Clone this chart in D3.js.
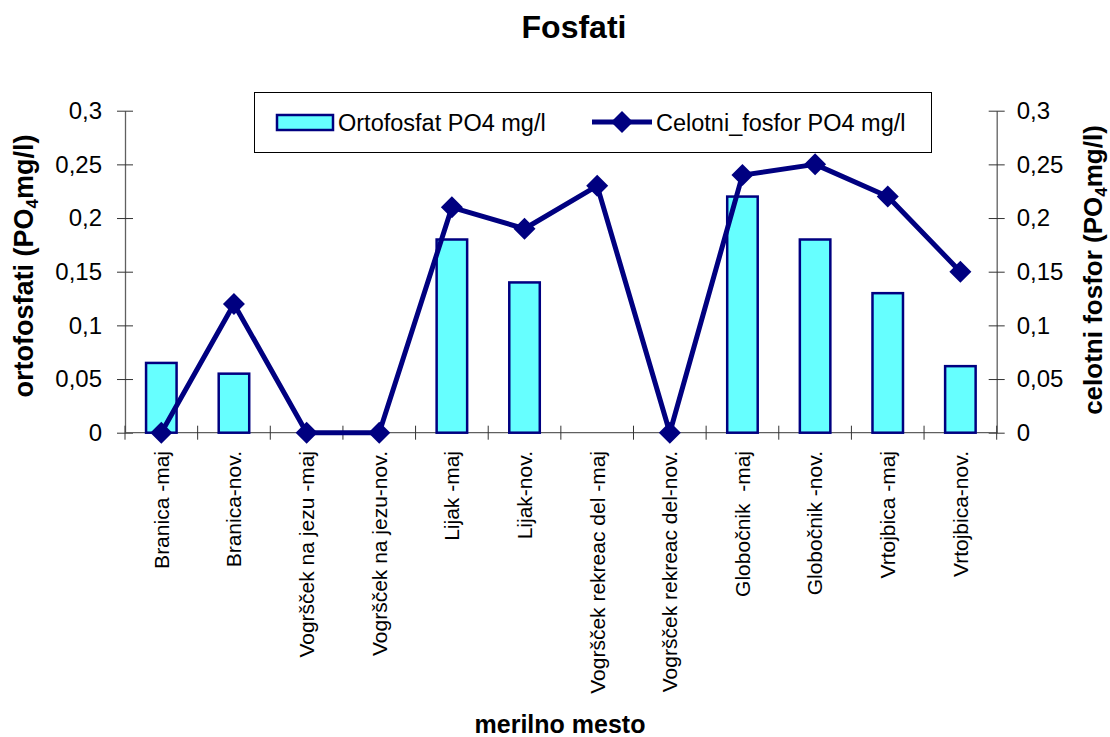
<!DOCTYPE html>
<html>
<head>
<meta charset="utf-8">
<script src="https://cdn.jsdelivr.net/npm/d3@7"></script>
<style>
  html, body { margin: 0; padding: 0; background: #fff; }
  svg { display: block; font-family: "Liberation Sans", Arial, sans-serif; }
</style>
</head>
<body>
<svg id="chart" width="1110" height="737"></svg>
<script>
// Measuring sites (two sampling campaigns: May and November)
const categories = [
  "Branica -maj", "Branica-nov.", "Vogršček na jezu -maj", "Vogršček na jezu-nov.",
  "Lijak -maj", "Lijak-nov.", "Vogršček rekreac del -maj", "Vogršček rekreac del-nov.",
  "Globočnik  -maj", "Globočnik -nov.", "Vrtojbica -maj", "Vrtojbica-nov."
];
// Orthophosphate, PO4 mg/l (null = no measurement)
const ortofosfat = [0.065, 0.055, null, null, 0.18, 0.14, null, null, 0.22, 0.18, 0.13, 0.062];
// Total phosphorus, PO4 mg/l
const celotniFosfor = [0, 0.12, 0, 0, 0.21, 0.19, 0.23, 0, 0.24, 0.25, 0.22, 0.15];
// Value axis ticks and their labels (decimal comma)
const yTicks = [0, 0.05, 0.1, 0.15, 0.2, 0.25, 0.3];
const yTickLabels = ["0", "0,05", "0,1", "0,15", "0,2", "0,25", "0,3"];

const seriesNames = ["Ortofosfat PO4 mg/l", "Celotni_fosfor PO4 mg/l"];

const barFill = "#66ffff";
const navy = "#000080";
const axisColor = "#606060";

const svg = d3.select("#chart");
const plot = { left: 125, right: 996.7, top: 110.7, bottom: 432.7 };

const x = d3.scaleBand().domain(categories).range([plot.left, plot.right]).paddingInner(0).paddingOuter(0);
const y = d3.scaleLinear().domain([0, 0.3]).range([plot.bottom, plot.top]);

// Title
svg.append("text")
  .attr("x", 574).attr("y", 38)
  .attr("text-anchor", "middle")
  .attr("font-size", 32).attr("font-weight", "bold")
  .text("Fosfati");

// Left value axis
const leftAxis = svg.append("g")
  .attr("transform", `translate(${plot.left},0)`)
  .call(d3.axisLeft(y).tickValues(yTicks).tickFormat((d, i) => yTickLabels[i]).tickSizeOuter(0).tickSizeInner(8).tickPadding(15));
leftAxis.select(".domain").attr("stroke", axisColor).attr("stroke-width", 1.3);
leftAxis.selectAll(".tick line").attr("x1", -8).attr("x2", 8).attr("stroke", "#333");
leftAxis.selectAll(".tick text").attr("font-size", 24).attr("fill", "#000").attr("font-family", null);

// Right value axis (same range)
const rightAxis = svg.append("g")
  .attr("transform", `translate(${plot.right},0)`)
  .call(d3.axisRight(y).tickValues(yTicks).tickFormat((d, i) => yTickLabels[i]).tickSizeOuter(0).tickSizeInner(8).tickPadding(12));
rightAxis.select(".domain").attr("stroke", axisColor).attr("stroke-width", 1.3);
rightAxis.selectAll(".tick line").attr("x1", -8).attr("x2", 8).attr("stroke", "#333");
rightAxis.selectAll(".tick text").attr("font-size", 24).attr("fill", "#000").attr("font-family", null);

// Category axis: line, boundary ticks, rotated labels
const xAxis = svg.append("g");
xAxis.append("line")
  .attr("x1", plot.left).attr("x2", plot.right)
  .attr("y1", y(0)).attr("y2", y(0))
  .attr("stroke", axisColor).attr("stroke-width", 1.3);
const boundaries = categories.map(c => x(c)).concat([x.range()[1]]);
xAxis.selectAll("line.tick")
  .data(boundaries)
  .join("line")
  .attr("class", "tick")
  .attr("x1", d => d).attr("x2", d => d)
  .attr("y1", y(0) - 7).attr("y2", y(0) + 7)
  .attr("stroke", "#333");
xAxis.selectAll("text.cat")
  .data(categories)
  .join("text")
  .attr("class", "cat")
  .attr("transform", d => `translate(${x(d) + x.bandwidth() / 2},451) rotate(-90)`)
  .attr("text-anchor", "end")
  .attr("dy", "0.35em")
  .attr("font-size", 21)
  .style("white-space", "pre")
  .text(d => d);

// Axis titles
const leftTitle = svg.append("text")
  .attr("transform", `translate(33,266) rotate(-90)`)
  .attr("text-anchor", "middle")
  .attr("font-size", 27).attr("font-weight", "bold");
leftTitle.append("tspan").text("ortofosfati (PO");
leftTitle.append("tspan").attr("font-size", 17).attr("dy", 5).text("4");
leftTitle.append("tspan").attr("dy", -5).text("mg/l)");

const rightTitle = svg.append("text")
  .attr("transform", `translate(1102,270) rotate(-90)`)
  .attr("text-anchor", "middle")
  .attr("font-size", 26).attr("font-weight", "bold");
rightTitle.append("tspan").text("celotni fosfor (PO");
rightTitle.append("tspan").attr("font-size", 17).attr("dy", 5).text("4");
rightTitle.append("tspan").attr("dy", -5).text("mg/l)");

svg.append("text")
  .attr("x", 560).attr("y", 733)
  .attr("text-anchor", "middle")
  .attr("font-size", 25).attr("font-weight", "bold")
  .text("merilno mesto");

// Bars: orthophosphate
const barW = x.bandwidth() * 0.42;
svg.append("g").selectAll("rect")
  .data(categories.map((c, i) => ({ c, v: ortofosfat[i] })).filter(d => d.v != null))
  .join("rect")
  .attr("x", d => x(d.c) + (x.bandwidth() - barW) / 2)
  .attr("y", d => y(d.v))
  .attr("width", barW)
  .attr("height", d => y(0) - y(d.v))
  .attr("fill", barFill)
  .attr("stroke", navy)
  .attr("stroke-width", 2.5);

// Line with diamond markers: total phosphorus
const pts = categories.map((c, i) => ({ c, v: celotniFosfor[i] }));
const line = d3.line().x(d => x(d.c) + x.bandwidth() / 2).y(d => y(d.v));
svg.append("path")
  .datum(pts)
  .attr("d", line)
  .attr("fill", "none")
  .attr("stroke", navy)
  .attr("stroke-width", 5)
  .attr("stroke-linejoin", "round");

const diamond = r => `M0,${-r}L${r},0L0,${r}L${-r},0Z`;
svg.append("g").selectAll("path")
  .data(pts)
  .join("path")
  .attr("transform", d => `translate(${x(d.c) + x.bandwidth() / 2},${y(d.v)})`)
  .attr("d", diamond(11))
  .attr("fill", navy);

// Legend
const legend = svg.append("g");
legend.append("rect")
  .attr("x", 254.5).attr("y", 92.5).attr("width", 677).attr("height", 60)
  .attr("fill", "#fff").attr("stroke", "#000").attr("stroke-width", 1);
legend.append("rect")
  .attr("x", 277).attr("y", 115).attr("width", 56).attr("height", 15)
  .attr("fill", barFill).attr("stroke", navy).attr("stroke-width", 2.5);
legend.append("text")
  .attr("x", 338).attr("y", 130.5)
  .attr("font-size", 23.5)
  .text(seriesNames[0]);
legend.append("line")
  .attr("x1", 592).attr("x2", 652).attr("y1", 122).attr("y2", 122)
  .attr("stroke", navy).attr("stroke-width", 5);
legend.append("path")
  .attr("transform", "translate(622,122)")
  .attr("d", diamond(11))
  .attr("fill", navy);
legend.append("text")
  .attr("x", 656).attr("y", 130.5)
  .attr("font-size", 23.5)
  .text(seriesNames[1]);
</script>
</body>
</html>
